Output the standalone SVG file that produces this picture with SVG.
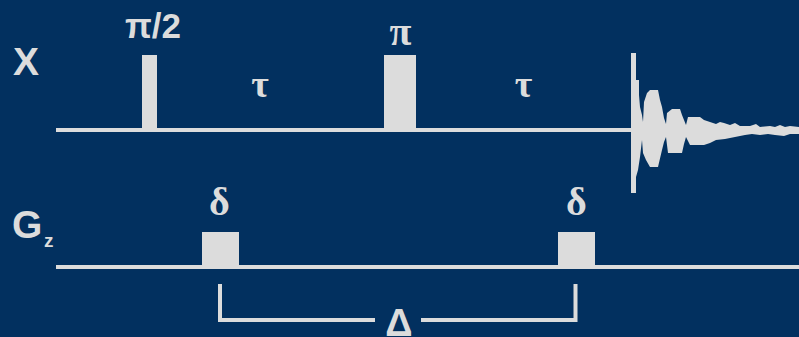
<svg xmlns="http://www.w3.org/2000/svg" width="799" height="337" viewBox="0 0 799 337">
  <style>
    .fg { fill: #DCDCDC; }
    .ln { stroke: #DCDCDC; stroke-width: 4; fill: none; }
    .sans { font-family: "Liberation Sans", Arial, sans-serif; font-weight: bold; fill: #DCDCDC; }
    .serif { font-family: "Liberation Serif", "Times New Roman", serif; font-weight: bold; fill: #DCDCDC; text-anchor: middle; }
  </style>
  <rect width="799" height="337" fill="#02305F"/>

  <g id="labels">
    <text class="sans" x="13" y="75" font-size="39">X</text>
    <text class="sans" x="12" y="238" font-size="39">G</text>
    <text class="sans" x="44" y="247" font-size="19">z</text>
  </g>

  <g id="connectors">
    <rect id="x-axis" class="fg" x="56" y="128" width="577" height="4"/>
    <rect id="gz-axis" class="fg" x="56" y="265" width="743" height="4"/>
    <path id="bracket-left" class="ln" d="M220,284 V320 H375"/>
    <path id="bracket-right" class="ln" d="M421,320 H575.5 V284"/>
  </g>

  <g id="pulse-pi2">
    <rect class="fg" x="142" y="55" width="15" height="74"/>
    <text class="sans" x="125" y="38" font-size="35" font-weight="600">π/2</text>
  </g>
  <g id="delay-tau1">
    <text class="serif" x="260" y="97" font-size="38">τ</text>
  </g>
  <g id="pulse-pi">
    <rect class="fg" x="384" y="55" width="32" height="74"/>
    <text class="serif" x="400.5" y="45" font-size="40">π</text>
  </g>
  <g id="delay-tau2">
    <text class="serif" x="523.5" y="97" font-size="38">τ</text>
  </g>
  <g id="fid">
    <path class="fg" d="M630,128 L631,128 L631,53 L636,53 L636,80 L639,80 L639,95 L640,107 L642,115 L643,122 L644,102 L647,93 L650,90 L658,90 L660,100 L662,107 L664,118 L666,124 L667,113 L672,109 L680,109 L682,115 L684,120 L686,125 L688,117 L700,117 L704,120 L710,122 L716,124 L720,122 L724,123 L730,125 L735,123 L740,126 L750,126 L756,124 L760,127 L770,126 L775,127 L780,125 L785,127 L790,126 L799,127 L799,134 L790,134 L784,136 L775,135 L768,134 L760,135 L752,134 L745,135 L735,137 L725,139 L716,140 L710,143 L704,145 L690,145 L688,141 L686,137 L684,144 L682,153 L668,153 L667,145 L666,137 L664,142 L662,150 L658,167 L650,167 L646,160 L643,153 L642,140 L640,157 L638,170 L636,177 L636,193 L631,193 L631,132 L630,132 Z"/>
  </g>
  <g id="grad-1">
    <rect class="fg" x="202" y="232" width="37" height="34"/>
    <text class="serif" x="219.5" y="215" font-size="40">δ</text>
  </g>
  <g id="grad-2">
    <rect class="fg" x="558" y="232" width="37" height="34"/>
    <text class="serif" x="576.5" y="215" font-size="40">δ</text>
  </g>
  <g id="big-delta">
    <text class="sans" x="399" y="336" font-size="38" text-anchor="middle">Δ</text>
  </g>
</svg>
